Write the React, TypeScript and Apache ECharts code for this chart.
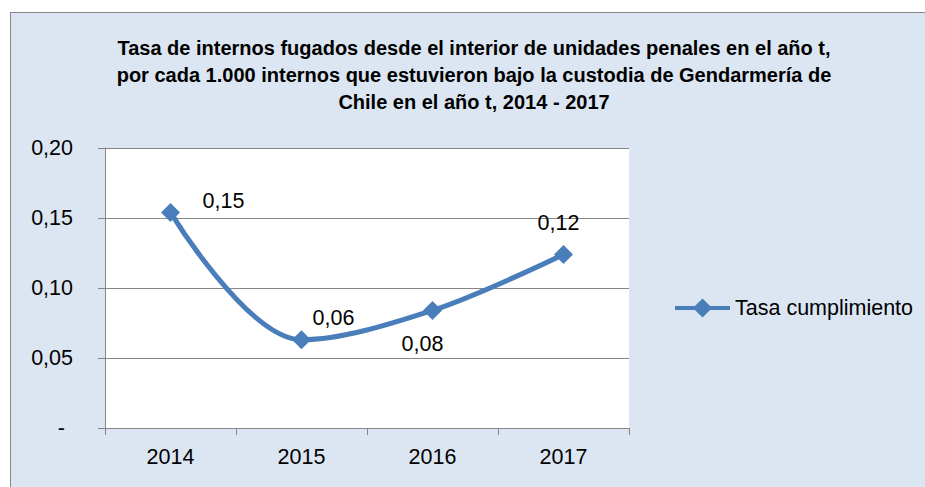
import React, { useEffect, useRef } from "react";
import * as echarts from "echarts";

const categories = ["2014", "2015", "2016", "2017"];
const seriesName = "Tasa cumplimiento";
const values = [0.154, 0.063, 0.084, 0.124];
const labelOffsets: [number, number][] = [
  [53, -11],
  [32, -22],
  [-10, 34],
  [-5, -31],
];
const titleLines = [
  "Tasa de internos fugados desde el interior de unidades penales en el año t,",
  "por cada 1.000 internos que estuvieron bajo la custodia de Gendarmería de",
  "Chile en el año t, 2014 - 2017",
];

const FONT = "'Liberation Sans', Arial, sans-serif";
const FS = 21.5;
const BLUE = "#4a7ebb";
const GRAY = "#868686";

const fmt = (v: number) => v.toFixed(2).replace(".", ",");

export default function App() {
  const ref = useRef<HTMLDivElement>(null);
  useEffect(() => {
    if (!ref.current) return;
    const chart = echarts.init(ref.current, null, { renderer: "svg" });
    chart.setOption({
      animation: false,
      backgroundColor: "transparent",
      textStyle: { fontFamily: FONT },
      graphic: [
        {
          type: "text",
          x: 474,
          y: 34,
          style: {
            text: titleLines.join("\n"),
            textAlign: "center",
            textVerticalAlign: "top",
            fontFamily: FONT,
            fontWeight: "bold",
            fontSize: 20,
            lineHeight: 27,
            fill: "#000",
          },
        },
      ],
      grid: {
        left: 105,
        top: 148,
        width: 524,
        height: 280,
        show: true,
        backgroundColor: "#ffffff",
        borderWidth: 0,
      },
      legend: {
        show: true,
        left: 668,
        top: 292,
        orient: "vertical",
        itemWidth: 55,
        itemHeight: 24,
        lineStyle: { width: 4 },
        textStyle: { fontFamily: FONT, fontSize: FS, color: "#000" },
        data: [seriesName],
      },
      xAxis: {
        type: "category",
        data: categories,
        boundaryGap: true,
        axisLine: { show: true, lineStyle: { color: GRAY, width: 1 } },
        axisTick: {
          show: true,
          alignWithLabel: false,
          length: 7,
          lineStyle: { color: GRAY, width: 1 },
        },
        axisLabel: { fontFamily: FONT, fontSize: FS, color: "#000", margin: 18 },
        splitLine: { show: false },
      },
      yAxis: {
        type: "value",
        min: 0,
        max: 0.2,
        interval: 0.05,
        axisLine: { show: true, lineStyle: { color: GRAY, width: 1 } },
        axisTick: { show: true, length: 7, lineStyle: { color: GRAY, width: 1 } },
        axisLabel: {
          fontFamily: FONT,
          fontSize: FS,
          color: "#000",
          margin: 32,
          formatter: (v: number) => (v === 0 ? "{dash|-}" : fmt(v)),
          rich: { dash: { fontFamily: FONT, fontSize: FS, color: "#000", padding: [0, 8, 0, 0] } },
        },
        splitLine: { show: true, lineStyle: { color: GRAY, width: 1 } },
      },
      series: [
        {
          name: seriesName,
          type: "line",
          data: values.map((v, i) => ({
            value: v,
            label: {
              show: true,
              position: "inside",
              offset: labelOffsets[i],
              formatter: () => fmt(v),
              fontFamily: FONT,
              fontSize: FS,
              color: "#000",
            },
          })),
          smooth: 0.35,
          symbol: "diamond",
          symbolSize: 19,
          lineStyle: { color: BLUE, width: 5 },
          itemStyle: { color: BLUE },
          emphasis: { disabled: true },
        },
      ],
    });
    return () => chart.dispose();
  }, []);

  return (
    <div style={{ position: "fixed", left: 0, top: 0, width: 925, height: 487, background: "#fff", overflow: "hidden" }}>
      <div
        style={{
          position: "absolute",
          left: 10,
          top: 12,
          width: 1000,
          height: 600,
          background: "#dce6f2",
          border: `1px solid ${GRAY}`,
          boxSizing: "border-box",
        }}
      />
      <div ref={ref} style={{ position: "absolute", left: 0, top: 0, width: 925, height: 487 }} />
    </div>
  );
}
